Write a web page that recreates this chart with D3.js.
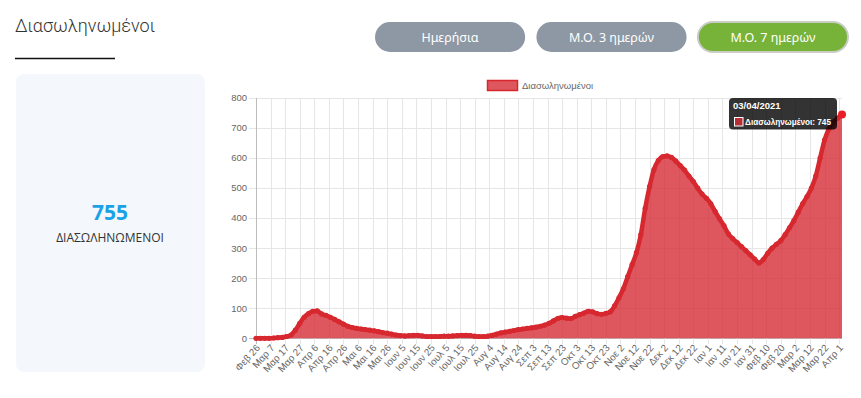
<!DOCTYPE html>
<html>
<head>
<meta charset="utf-8">
<script src="https://cdn.jsdelivr.net/npm/d3@7"></script>
<style>
  body { margin: 0; background: #fff; }
  svg { display: block; }
</style>
</head>
<body>
<svg id="chart"></svg>
<script>
// values, one every 3 days from 26 Feb 2020 to 3 Apr 2021
const stepDays = 3;
const intubated = [
  0, 0, 0, 0, 1, 2, 3, 6, 11, 27,
  50, 70, 82, 90, 91, 81, 76, 70, 63, 55,
  47, 40, 36, 33, 31, 29, 27, 25, 22, 19,
  17, 14, 11, 9, 8, 9, 10, 10, 8, 6,
  6, 6, 6, 7, 7, 8, 9, 10, 10, 9,
  7, 6, 6, 7, 10, 14, 18, 21, 23, 26,
  29, 31, 33, 35, 37, 40, 44, 50, 58, 66,
  69, 67, 66, 73, 79, 84, 90, 88, 82, 80,
  83, 88, 108, 135, 165, 205, 245, 285, 345, 433,
  505, 562, 592, 605, 607, 602, 590, 575, 560, 540,
  522, 500, 480, 466, 448, 422, 398, 375, 348, 332,
  319, 305, 292, 278, 264, 251, 262, 283, 300, 313,
  325, 345, 368, 392, 420, 448, 472, 500, 540, 600,
  660, 697, 720, 733, 745
];

// x labels, one every 10 days starting at the first point
const tickStep = 10;
const xTickLabels = [
  "Φεβ 26", "Μαρ 7", "Μαρ 17", "Μαρ 27", "Απρ 6", "Απρ 16", "Απρ 26",
  "Μαι 6", "Μαι 16", "Μαι 26", "Ιουν 5", "Ιουν 15", "Ιουν 25",
  "Ιουλ 5", "Ιουλ 15", "Ιουλ 25", "Αυγ 4", "Αυγ 14", "Αυγ 24",
  "Σεπ 3", "Σεπ 13", "Σεπ 23", "Οκτ 3", "Οκτ 13", "Οκτ 23",
  "Νοε 2", "Νοε 12", "Νοε 22", "Δεκ 2", "Δεκ 12", "Δεκ 22",
  "Ιαν 1", "Ιαν 11", "Ιαν 21", "Ιαν 31", "Φεβ 10", "Φεβ 20",
  "Μαρ 2", "Μαρ 12", "Μαρ 22", "Απρ 1"
];
const yTicks = [0, 100, 200, 300, 400, 500, 600, 700, 800];

const title = "Διασωληνωμένοι";
const seriesName = "Διασωληνωμένοι";
const buttons = ["Ημερήσια", "Μ.Ο. 3 ημερών", "Μ.Ο. 7 ημερών"];
const activeButton = 2;
const currentValue = 755;
const currentLabel = "ΔΙΑΣΩΛΗΝΩΜΕΝΟΙ";
const tooltipDate = "03/04/2021";

const W = 861, H = 398;
const svg = d3.select("#chart").attr("width", W).attr("height", H);

// header
svg.append("text")
  .attr("x", 15).attr("y", 32)
  .style("font", "300 18px Roboto, sans-serif")
  .attr("fill", "#333")
  .text(title);
svg.append("line")
  .attr("x1", 15).attr("x2", 115)
  .attr("y1", 58.5).attr("y2", 58.5)
  .attr("stroke", "#111").attr("stroke-width", 1.5);

// toggle buttons
const bx = d3.scaleBand().domain(d3.range(buttons.length)).range([375, 848]).paddingInner(0.07);
const btn = svg.selectAll("g.btn").data(buttons).join("g").attr("class", "btn");
btn.append("rect")
  .attr("x", (d, i) => bx(i)).attr("y", 22)
  .attr("width", bx.bandwidth()).attr("height", 30)
  .attr("rx", 15)
  .attr("fill", (d, i) => i === activeButton ? "#77b239" : "#8d98a4")
  .attr("stroke", (d, i) => i === activeButton ? "#c9cdc6" : "none")
  .attr("stroke-width", 2);
btn.append("text")
  .attr("x", (d, i) => bx(i) + bx.bandwidth() / 2).attr("y", 42)
  .attr("text-anchor", "middle")
  .style("font", "12.5px 'Noto Sans', sans-serif")
  .attr("fill", "#fff")
  .text(d => d);

// left card
svg.append("rect")
  .attr("x", 16).attr("y", 74).attr("width", 189).attr("height", 298)
  .attr("rx", 8).attr("fill", "#f4f8fd");
svg.append("text")
  .attr("x", 110).attr("y", 220).attr("text-anchor", "middle")
  .style("font", "bold 21px 'Open Sans', sans-serif")
  .attr("fill", "#1ba2e6")
  .text(currentValue);
svg.append("text")
  .attr("x", 110).attr("y", 242).attr("text-anchor", "middle")
  .style("font", "12px 'Open Sans', sans-serif")
  .attr("fill", "#333")
  .text(currentLabel);

// scales
const lastDay = (intubated.length - 1) * stepDays;
const x = d3.scaleLinear().domain([0, lastDay]).range([256, 842]);
const y = d3.scaleLinear().domain([0, 800]).range([338.3, 98]);
const pts = intubated.map((v, i) => ({day: i * stepDays, value: v}));
const tickDays = xTickLabels.map((d, i) => i * tickStep);

const font = "'Liberation Sans', Arial, sans-serif";
const grid = "#e6e6e6";

// grid
svg.append("g").selectAll("line").data(yTicks).join("line")
  .attr("x1", 249).attr("x2", 842)
  .attr("y1", d => Math.round(y(d)) + 0.5).attr("y2", d => Math.round(y(d)) + 0.5)
  .attr("stroke", (d) => d === 0 ? "#bdbdbd" : grid);
svg.append("g").selectAll("line").data(tickDays).join("line")
  .attr("x1", d => Math.round(x(d)) + 0.5).attr("x2", d => Math.round(x(d)) + 0.5)
  .attr("y1", 98).attr("y2", 344)
  .attr("stroke", (d, i) => i === 0 ? "#bdbdbd" : grid);

// y labels
svg.append("g").selectAll("text").data(yTicks).join("text")
  .attr("x", 247).attr("y", d => y(d)).attr("dy", "0.35em")
  .attr("text-anchor", "end")
  .style("font", "9.5px " + font).attr("fill", "#666")
  .text(d => d);

// x labels
svg.append("g").selectAll("text").data(xTickLabels).join("text")
  .attr("transform", (d, i) => `translate(${x(tickDays[i]) + 2},${346}) rotate(-48)`)
  .attr("dy", "0.35em")
  .attr("text-anchor", "end")
  .style("font", "9.8px " + font).attr("fill", "#666")
  .text(d => d);

// area + line
const area = d3.area()
  .x(d => x(d.day)).y0(y(0)).y1(d => y(d.value))
  .curve(d3.curveMonotoneX);
const line = d3.line()
  .x(d => x(d.day)).y(d => y(d.value))
  .curve(d3.curveMonotoneX);

svg.append("path").datum(pts)
  .attr("d", area)
  .attr("fill", "rgba(214,44,54,0.8)");
svg.append("path").datum(pts)
  .attr("d", line)
  .attr("fill", "none")
  .attr("stroke", "#d7282f")
  .attr("stroke-width", 4.5)
  .attr("stroke-linejoin", "round");
svg.append("g").selectAll("circle").data(pts).join("circle")
  .attr("cx", d => x(d.day)).attr("cy", d => y(d.value))
  .attr("r", 2.6).attr("fill", "#d7282f");

// hovered point
const last = pts[pts.length - 1];
svg.append("circle")
  .attr("cx", x(last.day)).attr("cy", y(last.value))
  .attr("r", 4).attr("fill", "#ea1c24");

// legend
svg.append("rect")
  .attr("x", 487.5).attr("y", 80.5).attr("width", 30).attr("height", 10)
  .attr("fill", "rgba(214,44,54,0.8)").attr("stroke", "#d7282f").attr("stroke-width", 1.5);
svg.append("text")
  .attr("x", 522).attr("y", 89)
  .style("font", "9.5px " + font).attr("fill", "#666")
  .text(seriesName);

// tooltip
const tip = svg.append("g").attr("transform", "translate(729,98)");
tip.append("rect")
  .attr("width", 108).attr("height", 31.5).attr("rx", 4)
  .attr("fill", "rgba(0,0,0,0.8)");
tip.append("text")
  .attr("x", 4).attr("y", 11)
  .style("font", "bold 9.5px " + font).attr("fill", "#fff")
  .text(tooltipDate);
tip.append("rect")
  .attr("x", 5.5).attr("y", 19.5).attr("width", 8.5).attr("height", 8.5)
  .attr("fill", "rgba(214,44,54,0.8)").attr("stroke", "#fff").attr("stroke-width", 1);
tip.append("text")
  .attr("x", 16).attr("y", 27)
  .attr("textLength", 86).attr("lengthAdjust", "spacingAndGlyphs")
  .style("font", "bold 9.5px " + font).attr("fill", "#fff")
  .text(`${seriesName}: ${last.value}`);
</script>
</body>
</html>
